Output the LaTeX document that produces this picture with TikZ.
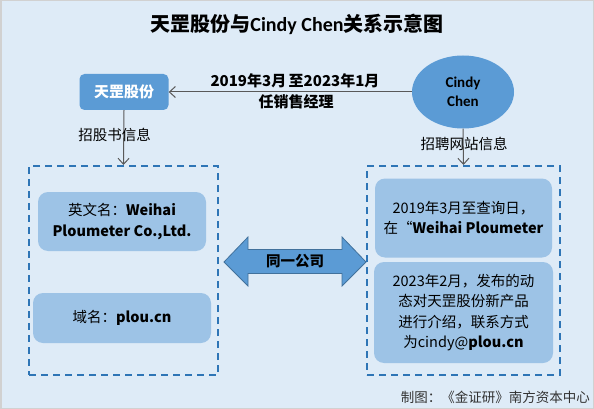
\documentclass[tikz,border=0pt]{standalone}
\usepackage{fontspec}
\setmainfont{Noto Sans CJK SC}
\newfontfamily\latinf{Carlito}
\usetikzlibrary{arrows.meta,shapes.geometric}
\definecolor{bgc}{HTML}{DEEBF7}
\definecolor{mainblue}{HTML}{5B9BD5}
\definecolor{darkedge}{HTML}{41719C}
\definecolor{lightbox}{HTML}{9DC3E6}
\definecolor{dashblue}{HTML}{2E75B6}
\definecolor{linegray}{HTML}{595959}
\tikzset{
  fs/.style={font=\fontsize{#1}{#1*1.4}\selectfont},
  innerbox/.style={fill=lightbox, rounded corners=10pt, align=center, inner sep=0pt,
    font=\fontsize{14.5}{20.5}\selectfont},
  dashbox/.style={draw=dashblue, line width=2pt, dash pattern=on 7pt off 5pt, inner sep=0pt},
  conn/.style={draw=linegray, line width=1pt, -{Straight Barb[length=6pt,width=11pt,line width=1pt]}},
  plain/.style={inner sep=0pt, align=center}
}
\begin{document}
\begin{tikzpicture}[x=1pt,y=-1pt]
\useasboundingbox (0,0) rectangle (594,409);
\fill[bgc] (0,0) rectangle (594,409);
\draw[black!18, line width=1.5pt] (0.75,0.75) rectangle (593.25,408.25);

% title
\node[plain, font=\fontsize{20}{24}\selectfont\bfseries] (title) at (297,24)
  {天罡股份与{\latinf Cindy Chen}关系示意图};

% top nodes
\node[fill=mainblue, rounded corners=5pt, minimum width=89pt, minimum height=36pt,
  text=white, font=\fontsize{15}{18}\selectfont\bfseries, inner sep=0pt] (tg) at (124,92) {天罡股份};
\node[ellipse, fill=mainblue, minimum width=102pt, minimum height=73pt, inner sep=0pt,
  align=center, font=\fontsize{15}{18.5}\latinf\bfseries] (cc) at (463,92) {Cindy\\Chen};

\draw[conn] (cc.west) -- (tg.east);
\node[plain, font=\fontsize{15}{18}\selectfont\bfseries] (lab1) at (295,81) {2019年3月\,至2023年1月};
\node[plain, font=\fontsize{15}{18}\selectfont\bfseries] (lab2) at (296,102) {任销售经理};

% dashed boxes
\node[dashbox, minimum width=189pt, minimum height=209pt] (lbox) at (123.5,270.5) {};
\node[dashbox, minimum width=193pt, minimum height=209pt] (rbox) at (463.5,270.5) {};

\draw[conn] (tg.south) -- (lbox.north);
\draw[conn] (cc.south) -- (rbox.north);
\node[plain, font=\fontsize{14.5}{17}\selectfont] (lab3) at (114.5,135) {招股书信息};
\node[plain, font=\fontsize{14.5}{17}\selectfont] (lab4) at (464,144) {招聘网站信息};

% inner boxes
\node[innerbox, minimum width=168pt, minimum height=59pt] (l1) at (122,221.5)
  {英文名：\textbf{Weihai}\\\textbf{Ploumeter Co.,Ltd.}};
\node[innerbox, minimum width=178pt, minimum height=50pt] (l2) at (122,318)
  {域名：\textbf{plou.cn}};
\node[innerbox, minimum width=177pt, minimum height=79pt] (r1) at (463.5,218)
  {2019年3月至查询日，\\在“\textbf{Weihai Ploumeter}};
\node[innerbox, minimum width=179pt, minimum height=101pt] (r2) at (463.5,312.5)
  {2023年2月，发布的动\\态对天罡股份新产品\\进行介绍，联系方式\\为cindy@\textbf{plou.cn}};

% double arrow
\draw[fill=mainblue, draw=darkedge, line width=0.8pt]
  (224,262) -- (248,237) -- (248,249.5) -- (342,249.5) -- (342,237) -- (366,262)
  -- (342,286) -- (342,273.5) -- (248,273.5) -- (248,286) -- cycle;
\node[plain, font=\fontsize{14.5}{17}\selectfont\bfseries] (same) at (295,261.5) {同一公司};

% footer
\node[plain, anchor=east, text=black!80, font=\fontsize{13.5}{16}\selectfont] (foot) at (590,397)
  {制图：《金证研》南方资本中心};
\end{tikzpicture}
\end{document}
